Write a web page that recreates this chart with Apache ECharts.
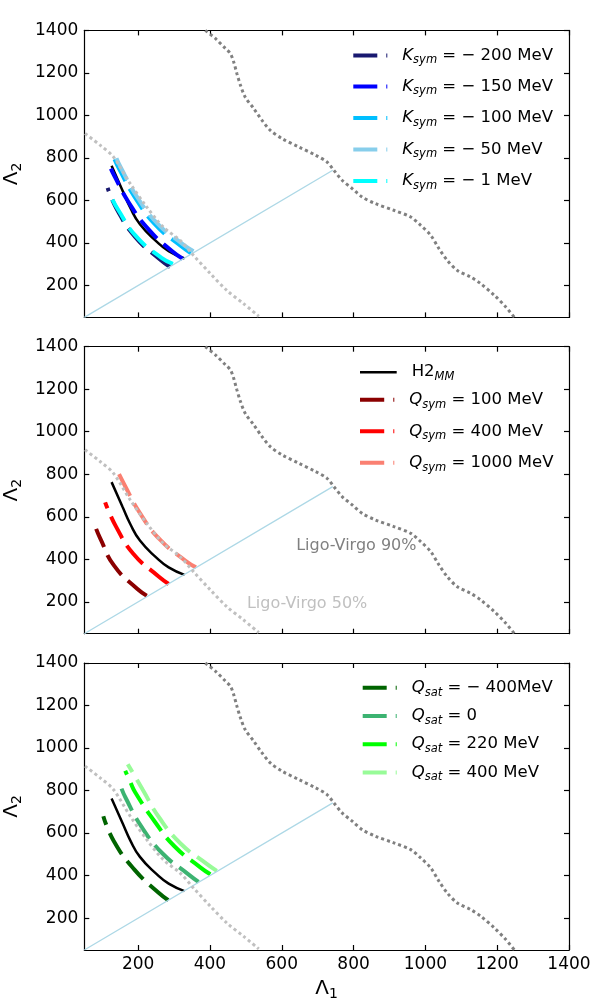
<!DOCTYPE html>
<html><head><meta charset="utf-8">
<script src="https://cdn.jsdelivr.net/npm/echarts@6/dist/echarts.min.js"></script>
<style>html,body{margin:0;padding:0;background:#fff}#c{width:600px;height:1000px}</style>
</head><body><div id="c"></div>
<script>
// ---- data (Λ1, Λ2); ordered from the equal-mass end upward ----
const tickValues = [200, 400, 600, 800, 1000, 1200, 1400];
const h2mm = [[329,327],[285,362],[250,409],[205,488],[178,566],[157,645],[126,763]];
// panel 1 : Ksym
const ksymM200 = [[289,287],[261,322],[191,430],[141,558],[115,659]];
const ksymM150 = [[324,326],[294,362],[229,464],[173,593],[134,715],[124,750]];
const ksymM100 = [[347,352],[318,387],[249,484],[191,615],[148,745],[134,795]];
const ksymM50  = [[354,361],[324,395],[254,491],[196,620],[152,754],[138,805]];
const ksymM1   = [[297,302],[265,330],[194,432],[143,560],[126,613]];
// panel 2 : Qsym
const qsym100  = [[224,229],[198,260],[133,370],[94,500],[83,543]];
const qsym400  = [[285,284],[257,319],[187,425],[138,555],[108,668]];
const qsym1000 = [[361,362],[331,394],[261,492],[205,617],[161,753],[145,806]];
// panel 3 : Qsat
const qsatM400 = [[284,284],[257,319],[189,429],[132,563],[103,679]];
const qsat0    = [[368,370],[340,406],[268,504],[210,628],[165,766],[152,817]];
const qsat220  = [[401,406],[373,439],[301,538],[245,657],[192,791],[178,841],[164,893]];
const qsat400  = [[419,422],[391,455],[318,551],[259,672],[212,806],[171,924]];
// Ligo-Virgo contours and equal-mass line
const ligo90 = [[387,1400],[415,1362],[443,1315],[457,1291],[466,1252],[475,1197],[485,1142],[498,1087],
  [522,1032],[545,977],[568,930],[601,891],[647,852],[694,813],[726,781],[745,742],[768,695],[796,656],
  [824,616],[861,585],[912,554],[959,522],[987,483],[1015,436],[1038,373],[1061,318],[1089,271],
  [1126,240],[1154,209],[1192,154],[1224,99],[1248,50]];
const ligo50 = [[52,915],[94,860],[131,805],[178,679],[224,569],[270,475],[317,412],[354,342],
  [401,256],[447,177],[494,114],[536,55]];
const equalMass = [[50,50],[742,742]];
const label90Pos = [640, 461];
const label50Pos = [503, 190];

const FONT = 'DejaVu Sans';
const GRID_TOPS = [30.4, 346.7, 663];
const DASH = [24, 9];

const grids = GRID_TOPS.map(t => ({left: 84.3, width: 484.7, top: t, height: 287, outerBoundsMode: 'none'}));

function axisCommon(gi, pos, showLabel) {
  return {
    type: 'value', gridIndex: gi, min: 50, max: 1400, position: pos,
    axisLine: {show: true, onZero: false, lineStyle: {color: '#000', width: 1.2}},
    axisTick: {show: true, inside: true, length: 5, customValues: tickValues, lineStyle: {color: '#000', width: 1.2}},
    axisLabel: {show: showLabel, customValues: tickValues, margin: 6, color: '#000', fontSize: 17, fontFamily: FONT,
      formatter: v => String(v)},
    splitLine: {show: false}
  };
}
const nameRich = {
  a: {fontSize: 20, fontFamily: FONT, color: '#000', lineHeight: 24},
  b: {fontSize: 14, fontFamily: FONT, color: '#000', lineHeight: 14, verticalAlign: 'bottom'}
};
const xAxes = [], yAxes = [];
for (let i = 0; i < 3; i++) {
  const xb = axisCommon(i, 'bottom', i === 2);
  if (i === 2) Object.assign(xb, {name: '{a|Λ}{b|1}', nameLocation: 'middle', nameGap: 27, nameTextStyle: {rich: nameRich}});
  xAxes.push(xb);
  const yl = axisCommon(i, 'left', true);
  Object.assign(yl, {name: '{a|Λ}{b|2}', nameLocation: 'middle', nameGap: 47, nameRotate: 90, nameTextStyle: {rich: nameRich}});
  yAxes.push(yl);
}
for (let i = 0; i < 3; i++) { xAxes.push(axisCommon(i, 'top', false)); yAxes.push(axisCommon(i, 'right', false)); }

function curve(name, data, color, gi, width, dash) {
  return {type: 'line', name, data, xAxisIndex: gi, yAxisIndex: gi, symbol: 'none', smooth: 0.5,
    silent: true, animation: false, clip: true,
    lineStyle: {color, width, type: dash, cap: 'butt'}, itemStyle: {color}};
}
function contour(name, data, color, gi) {
  return {type: 'line', name, data, xAxisIndex: gi, yAxisIndex: gi, symbol: 'none', smooth: 0.3,
    silent: true, animation: false, clip: true,
    lineStyle: {color, width: 3, type: [3, 3], cap: 'butt'}, itemStyle: {color}};
}
function diag(gi) {
  return {type: 'line', name: 'eq' + gi, data: equalMass, xAxisIndex: gi, yAxisIndex: gi, symbol: 'none',
    silent: true, animation: false, lineStyle: {color: '#add8e6', width: 1.3}, itemStyle: {color: '#add8e6'}};
}

const series = [];
for (let i = 0; i < 3; i++) series.push(curve('H2MM_' + i, h2mm, '#000000', i, 2.5, 'solid'));
series.push(curve('Ksym-200', ksymM200, '#191970', 0, 4, DASH));
series.push(curve('Ksym-150', ksymM150, '#0000ff', 0, 4, DASH));
series.push(curve('Ksym-100', ksymM100, '#00bfff', 0, 4, DASH));
series.push(curve('Ksym-50', ksymM50, '#87ceeb', 0, 4, DASH));
series.push(curve('Ksym-1', ksymM1, '#00ffff', 0, 4, DASH));
series.push(curve('Qsym100', qsym100, '#8b0000', 1, 4, DASH));
series.push(curve('Qsym400', qsym400, '#ff0000', 1, 4, DASH));
series.push(curve('Qsym1000', qsym1000, '#fa8072', 1, 4, DASH));
series.push(curve('Qsat-400', qsatM400, '#006400', 2, 4, DASH));
series.push(curve('Qsat0', qsat0, '#3cb371', 2, 4, DASH));
series.push(curve('Qsat220', qsat220, '#00ff00', 2, 4, DASH));
series.push(curve('Qsat400', qsat400, '#98fb98', 2, 4, DASH));
for (let i = 0; i < 3; i++) {
  series.push(diag(i));
  series.push(contour('lv90_' + i, ligo90, '#808080', i));
  series.push(contour('lv50_' + i, ligo50, '#c0c0c0', i));
}

const legendLabels = {
  'Ksym-200': '{sp|}{i|K}{s|sym}{n| = − 200 MeV}',
  'Ksym-150': '{sp|}{i|K}{s|sym}{n| = − 150 MeV}',
  'Ksym-100': '{sp|}{i|K}{s|sym}{n| = − 100 MeV}',
  'Ksym-50':  '{sp|}{i|K}{s|sym}{n| = − 50 MeV}',
  'Ksym-1':   '{sp|}{i|K}{s|sym}{n| = − 1 MeV}',
  'H2MM_1':   '{sp|}{n|H2}{s|MM}',
  'Qsym100':  '{sp|}{i|Q}{s|sym}{n| = 100 MeV}',
  'Qsym400':  '{sp|}{i|Q}{s|sym}{n| = 400 MeV}',
  'Qsym1000': '{sp|}{i|Q}{s|sym}{n| = 1000 MeV}',
  'Qsat-400': '{sp|}{i|Q}{s|sat}{n| = − 400MeV}',
  'Qsat0':    '{sp|}{i|Q}{s|sat}{n| = 0}',
  'Qsat220':  '{sp|}{i|Q}{s|sat}{n| = 220 MeV}',
  'Qsat400':  '{sp|}{i|Q}{s|sat}{n| = 400 MeV}'
};
const legendRich = {
  sp: {width: 10, lineHeight: 22},
  i: {fontStyle: 'italic', fontSize: 16.5, fontFamily: FONT, color: '#000', lineHeight: 22},
  s: {fontStyle: 'italic', fontSize: 11.5, fontFamily: FONT, color: '#000', lineHeight: 12, verticalAlign: 'bottom'},
  n: {fontSize: 16.5, fontFamily: FONT, color: '#000', lineHeight: 22}
};
const DASH_ICON = 'path://M0,0H24V4H0Z M33,0H34V4H33Z';
const SOLID_ICON = 'path://M0,0H37V2.5H0Z';
// one legend per row: [series name, icon left, row centre y, icon width]
const legendRows = [
  ['Ksym-200', 353.3, 55, 34], ['Ksym-150', 353.3, 86, 34], ['Ksym-100', 353.3, 117.5, 34],
  ['Ksym-50', 353.3, 149, 34], ['Ksym-1', 353.3, 180.5, 34],
  ['H2MM_1', 360, 371.7, 36.7],
  ['Qsym100', 360, 399.3, 34.3], ['Qsym400', 360, 430.8, 34.3], ['Qsym1000', 360, 462.3, 34.3],
  ['Qsat-400', 362.7, 687.3, 34], ['Qsat0', 362.7, 715.5, 34], ['Qsat220', 362.7, 743.7, 34], ['Qsat400', 362.7, 772, 34]
];
const legends = legendRows.map(([name, left, cy, w]) => {
  const solid = name.startsWith('H2');
  const h = solid ? 2.5 : 4;
  return {data: [{name, icon: solid ? SOLID_ICON : DASH_ICON}], left, top: cy - 8, orient: 'vertical',
    itemWidth: w, itemHeight: h, padding: 0, selectedMode: false, symbolKeepAspect: false,
    formatter: n => legendLabels[n], textStyle: {fontFamily: FONT, fontSize: 16.5, color: '#000', rich: legendRich}};
});

const chart = echarts.init(document.getElementById('c'), null, {renderer: 'canvas'});
chart.setOption({
  animation: false, backgroundColor: '#fff',
  grid: grids, xAxis: xAxes, yAxis: yAxes, series, legend: legends
});
const p90 = chart.convertToPixel({gridIndex: 1}, label90Pos);
const p50 = chart.convertToPixel({gridIndex: 1}, label50Pos);
chart.setOption({graphic: [
  {type: 'text', x: p90[0], y: p90[1], silent: true,
   style: {text: 'Ligo-Virgo 90%', fill: '#808080', fontSize: 16, fontFamily: FONT, align: 'left', verticalAlign: 'middle'}},
  {type: 'text', x: p50[0], y: p50[1], silent: true,
   style: {text: 'Ligo-Virgo 50%', fill: '#c0c0c0', fontSize: 16, fontFamily: FONT, align: 'left', verticalAlign: 'middle'}}
]});
</script></body></html>
